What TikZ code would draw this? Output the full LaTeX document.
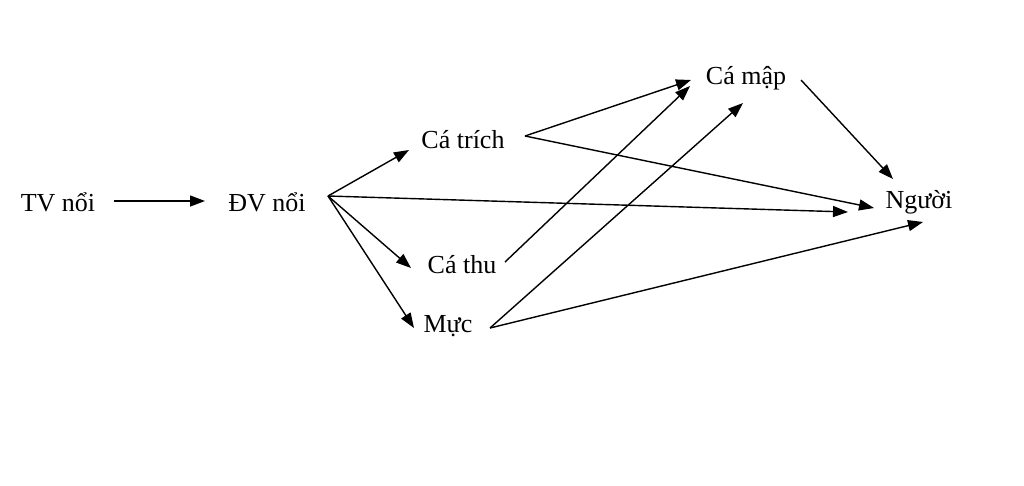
\documentclass[tikz,border=0pt]{standalone}
\usepackage{fontspec}
\setmainfont{Liberation Serif}
\usetikzlibrary{arrows.meta}
\begin{document}
\begin{tikzpicture}[x=1pt,y=-1pt,
  lbl/.style={inner sep=0pt,font=\fontsize{26}{30}\selectfont},
  arr/.style={line width=1.4pt,-{Triangle[length=15pt,width=11pt]}}]
\useasboundingbox (0,0) rectangle (1024,485);
\node[lbl] (tv) at (58,202) {TV nổi};
\node[lbl] (dv) at (267,202) {ĐV nổi};
\node[lbl] (ct) at (463,140) {Cá trích};
\node[lbl] (cth) at (462,265) {Cá thu};
\node[lbl] (muc) at (448,326) {Mực};
\node[lbl] (cm) at (746,78) {Cá mập};
\node[lbl] (ng) at (919,202) {Người};
\coordinate (a1) at (114,201); \coordinate (a2) at (205,201);
\coordinate (d0) at (328,196);
\coordinate (ct1) at (409,150); \coordinate (cth1) at (411,268);
\coordinate (mu1) at (414,328); \coordinate (ng1) at (848,212);
\coordinate (cts) at (525,136); \coordinate (cm1) at (691,80);
\coordinate (ng2) at (874,208);
\coordinate (ths) at (505,262); \coordinate (cm2) at (690,86);
\coordinate (mus) at (490,328); \coordinate (cm3) at (743,103);
\coordinate (ng3) at (923,222);
\coordinate (cms) at (801,80); \coordinate (ng4) at (893,179);
\draw[arr] (a1) -- (a2);
\draw[arr] (d0) -- (ct1);
\draw[arr] (d0) -- (cth1);
\draw[arr] (d0) -- (mu1);
\draw[arr] (d0) -- (ng1);
\draw[arr] (cts) -- (cm1);
\draw[arr] (cts) -- (ng2);
\draw[arr] (ths) -- (cm2);
\draw[arr] (mus) -- (cm3);
\draw[arr] (mus) -- (ng3);
\draw[arr] (cms) -- (ng4);
\end{tikzpicture}
\end{document}
